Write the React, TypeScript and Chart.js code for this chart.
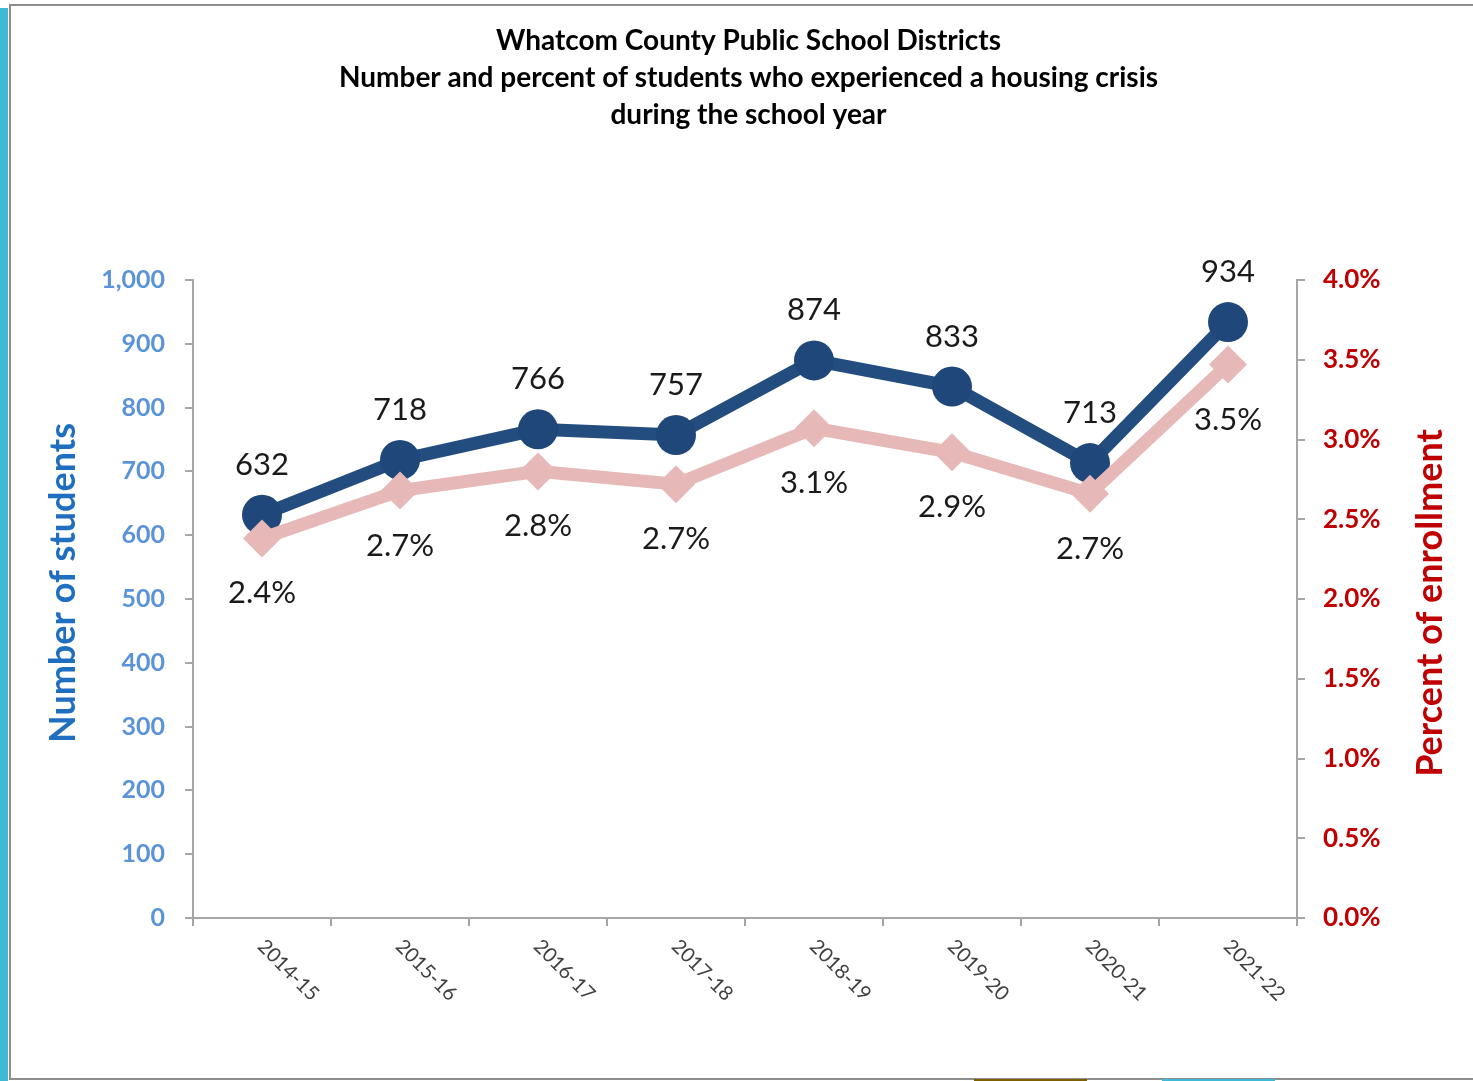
import React, { useEffect, useRef } from 'react';
import { Chart, registerables } from 'chart.js';

Chart.register(...registerables);

const categories = ['2014-15', '2015-16', '2016-17', '2017-18', '2018-19', '2019-20', '2020-21', '2021-22'];
const students = [632, 718, 766, 757, 874, 833, 713, 934];
const percentEnrollment = [2.38, 2.68, 2.8, 2.72, 3.07, 2.92, 2.66, 3.47];
const titleLines = [
  'Whatcom County Public School Districts',
  'Number and percent of students who experienced a housing crisis',
  'during the school year',
];
const leftAxisTitle = 'Number of students';
const rightAxisTitle = 'Percent of enrollment';

const FONT = 'Lato, "Open Sans", "DejaVu Sans", sans-serif';
const BLUE_LINE = '#234D7E';
const BLUE_POINT = '#1F477A';
const PINK = '#E6B9B8';
const AXIS_GRAY = '#A6A6A6';

const annotationsPlugin = {
  id: 'customText',
  afterDatasetsDraw(chart: any) {
    const ctx = chart.ctx;
    ctx.save();
    ctx.font = `31px ${FONT}`;
    ctx.fillStyle = '#1A1A1A';
    ctx.textAlign = 'center';
    ctx.textBaseline = 'middle';
    const metaBlue = chart.getDatasetMeta(1);
    metaBlue.data.forEach((pt: any, i: number) => {
      ctx.fillText(String(students[i]), pt.x, pt.y - 50);
    });
    const metaPink = chart.getDatasetMeta(0);
    metaPink.data.forEach((pt: any, i: number) => {
      ctx.fillText(percentEnrollment[i].toFixed(1) + '%', pt.x, pt.y + 55);
    });
    ctx.restore();
  },
  afterDraw(chart: any) {
    const ctx = chart.ctx;
    const area = chart.chartArea;
    ctx.save();
    const xs = chart.scales.x;
    ctx.font = `20px ${FONT}`;
    ctx.fillStyle = '#404040';
    ctx.textAlign = 'left';
    ctx.textBaseline = 'middle';
    categories.forEach((c, i) => {
      const x = xs.getPixelForValue(i);
      ctx.save();
      ctx.translate(x - 1, area.bottom + 25);
      ctx.rotate(Math.PI / 4);
      ctx.fillText(c, 0, 0);
      ctx.restore();
    });
    ctx.font = `bold 36px ${FONT}`;
    ctx.textAlign = 'center';
    ctx.textBaseline = 'middle';
    ctx.fillStyle = '#1F6EBF';
    ctx.save();
    ctx.translate(63, 583);
    ctx.rotate(-Math.PI / 2);
    ctx.fillText(leftAxisTitle, 0, 0);
    ctx.restore();
    ctx.fillStyle = '#C00000';
    ctx.save();
    ctx.translate(1430, 603);
    ctx.rotate(-Math.PI / 2);
    ctx.fillText(rightAxisTitle, 0, 0);
    ctx.restore();
    ctx.restore();
  },
};

export default function App() {
  const canvasRef = useRef<HTMLCanvasElement | null>(null);

  useEffect(() => {
    if (!canvasRef.current) return;
    const chart = new Chart(canvasRef.current, {
      type: 'line',
      data: {
        labels: categories,
        datasets: [
          {
            label: 'Percent of enrollment',
            data: percentEnrollment,
            yAxisID: 'y1',
            borderColor: PINK,
            backgroundColor: PINK,
            borderWidth: 13,
            pointStyle: 'rectRot',
            pointRadius: 19,
            pointBorderWidth: 0,
            pointBackgroundColor: PINK,
            tension: 0,
            order: 0,
          },
          {
            label: 'Number of students',
            data: students,
            yAxisID: 'y',
            borderColor: BLUE_LINE,
            backgroundColor: BLUE_POINT,
            borderWidth: 13,
            pointStyle: 'circle',
            pointRadius: 20,
            pointBorderWidth: 0,
            pointBackgroundColor: BLUE_POINT,
            tension: 0,
            order: 1,
          },
        ],
      },
      options: {
        responsive: false,
        animation: false,
        layout: { padding: { left: 24, right: 0, top: 4, bottom: 0 } },
        plugins: {
          legend: { display: false },
          tooltip: { enabled: false },
          title: {
            display: true,
            text: titleLines,
            color: '#000000',
            font: { family: FONT, size: 28, weight: 'bold', lineHeight: 37 / 28 },
            padding: { top: 18.5, bottom: 146.5 },
          },
        },
        scales: {
          x: {
            type: 'category',
            offset: true,
            grid: { offset: true, drawOnChartArea: false, tickLength: 8, color: AXIS_GRAY, lineWidth: 2 },
            border: { color: AXIS_GRAY, width: 2 },
            ticks: { display: false },
            afterFit: (s: any) => { s.height = 163; },
          },
          y: {
            position: 'left',
            min: 0,
            max: 1000,
            ticks: {
              stepSize: 100,
              padding: 20,
              color: '#5B93D9',
              font: { family: FONT, size: 25, weight: 'bold' },
              callback: (v: any) => Number(v).toLocaleString('en-US'),
            },
            grid: { drawOnChartArea: false, tickLength: 8, color: AXIS_GRAY, lineWidth: 2 },
            border: { color: AXIS_GRAY, width: 2 },
            afterFit: (s: any) => { s.width = 169; },
          },
          y1: {
            position: 'right',
            min: 0,
            max: 4,
            ticks: {
              stepSize: 0.5,
              padding: 18,
              color: '#C00000',
              font: { family: FONT, size: 26, weight: 'bold' },
              callback: (v: any) => Number(v).toFixed(1) + '%',
            },
            grid: { drawOnChartArea: false, tickLength: 8, color: AXIS_GRAY, lineWidth: 2 },
            border: { color: AXIS_GRAY, width: 2 },
            afterFit: (s: any) => { s.width = 176; },
          },
        },
      } as any,
      plugins: [annotationsPlugin],
    });
    return () => chart.destroy();
  }, []);

  return (
    <div style={{ position: 'fixed', left: 0, top: 0, width: 1473, height: 1081, background: '#ffffff', overflow: 'hidden' }}>
      <div style={{ position: 'absolute', left: 0, top: 8, width: 8, height: 1073, background: '#3FBAD4' }} />
      <div style={{ position: 'absolute', left: 9, top: 4, width: 1480, height: 1072, border: '2px solid #8E8E8E' }} />
      <div style={{ position: 'absolute', left: 974, top: 1079, width: 113, height: 2, background: '#7F6000' }} />
      <div style={{ position: 'absolute', left: 1162, top: 1079, width: 113, height: 2, background: '#3FBAD4' }} />
      <canvas ref={canvasRef} width={1473} height={1081} style={{ position: 'absolute', left: 0, top: 0, width: 1473, height: 1081 }} />
    </div>
  );
}
